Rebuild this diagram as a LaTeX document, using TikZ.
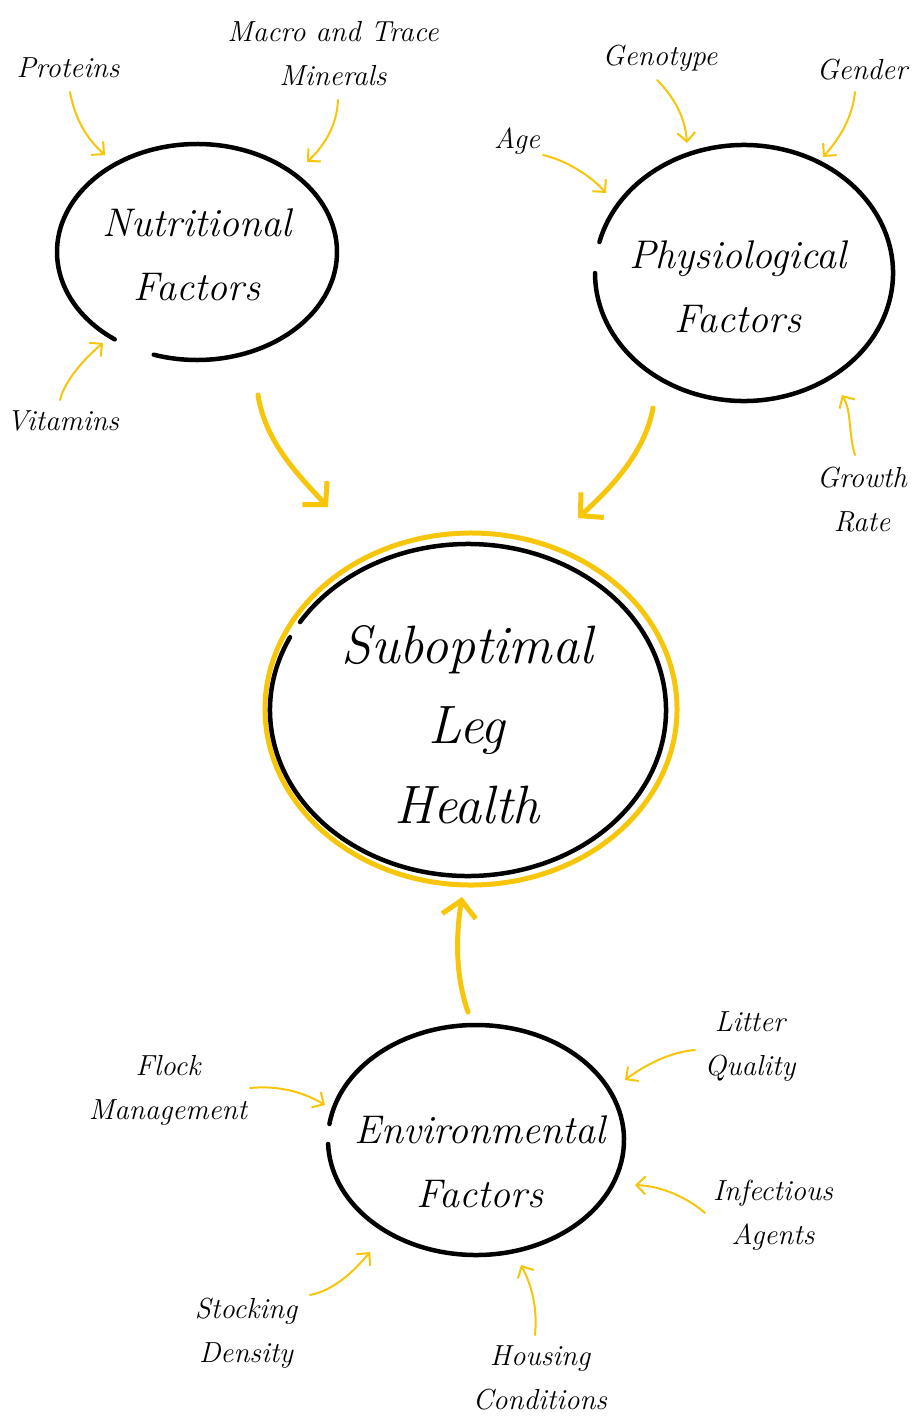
\documentclass[tikz,border=0pt]{standalone}
\usetikzlibrary{arrows.meta}
\definecolor{gold}{RGB}{247,197,10}
\begin{document}
\begin{tikzpicture}[x=1pt,y=-1pt,
  ring/.style={line width=4.5pt,line cap=round,black},
  halo/.style={line width=5pt,line cap=round,gold},
  thin/.style={gold,line width=2pt,line cap=round,-{Straight Barb[length=9pt,width=18pt,line width=2pt]}},
  thick/.style={gold,line width=5pt,line cap=round,-{Straight Barb[length=16pt,width=34pt,line width=5pt]}},
  lab/.style={font=\fontsize{29}{44}\selectfont\itshape,align=center,inner sep=0pt},
  mid/.style={font=\fontsize{40}{64}\selectfont\itshape,align=center,inner sep=0pt},
  big/.style={font=\fontsize{54}{80}\selectfont\itshape,align=center,inner sep=0pt}]
\useasboundingbox (0,0) rectangle (914,1426);

% circles
\draw[ring] (197,252) ++(126:140 and 108) arc[start angle=126,end angle=468,x radius=140,y radius=108];
\draw[ring] (744,273) ++(194:149 and 128) arc[start angle=194,end angle=540,x radius=149,y radius=128];
\draw[halo] (471,709) ++(214:206 and 176) arc[start angle=214,end angle=578,x radius=206,y radius=176];
\draw[ring] (468,710) ++(212:198 and 166) arc[start angle=212,end angle=566,x radius=198,y radius=166];
\draw[ring] (476,1140) ++(188:148 and 115) arc[start angle=188,end angle=538,x radius=148,y radius=115];

% main labels
\node[mid] (nut) at (197,255) {Nutritional\\Factors};
\node[mid] (phy) at (738,287) {Physiological\\Factors};
\node[big] (leg) at (467,725) {Suboptimal\\Leg\\Health};
\node[mid] (env) at (480,1162) {Environmental\\Factors};

% small labels
\node[lab] (prot) at (68,68) {Proteins};
\node[lab] (mine) at (333,54) {Macro and Trace\\Minerals};
\node[lab] (vita) at (63,421) {Vitamins};
\node[lab] (age) at (517,141) {Age};
\node[lab] (geno) at (660,58) {Genotype};
\node[lab] (gend) at (862,70) {Gender};
\node[lab] (grow) at (862,500) {Growth\\Rate};
\node[lab] (floc) at (168,1090) {Flock\\Management};
\node[lab] (litt) at (750,1047) {Litter\\Quality};
\node[lab] (infe) at (773,1215) {Infectious\\Agents};
\node[lab] (hous) at (540,1378) {Housing\\Conditions};
\node[lab] (stoc) at (246,1333) {Stocking\\Density};

% arrow end points
\coordinate (p1) at (70,92);   \coordinate (p2) at (105,155);
\coordinate (m1) at (338,100); \coordinate (m2) at (307,162);
\coordinate (v1) at (60,400);  \coordinate (v2) at (103,343);
\coordinate (a1) at (543,155); \coordinate (a2) at (606,193);
\coordinate (g1) at (657,80);  \coordinate (g2) at (687,143);
\coordinate (e1) at (855,92);  \coordinate (e2) at (823,157);
\coordinate (r1) at (855,455); \coordinate (r2) at (842,395);
\coordinate (f1) at (250,1088);\coordinate (f2) at (325,1105);
\coordinate (l1) at (695,1050);\coordinate (l2) at (625,1080);
\coordinate (i1) at (705,1213);\coordinate (i2) at (635,1185);
\coordinate (h1) at (535,1335);\coordinate (h2) at (521,1265);
\coordinate (s1) at (310,1295);\coordinate (s2) at (370,1252);
\coordinate (n1) at (258,395); \coordinate (n2) at (328,507);
\coordinate (y1) at (653,408); \coordinate (y2) at (578,518);
\coordinate (o1) at (468,1012);\coordinate (o2) at (462,897);

% thin arrows
\draw[thin] (p1) .. controls (75,120) and (88,140) .. (p2);
\draw[thin] (m1) .. controls (337,125) and (325,145) .. (m2);
\draw[thin] (v1) .. controls (65,380) and (85,358) .. (v2);
\draw[thin] (a1) .. controls (565,160) and (590,175) .. (a2);
\draw[thin] (g1) .. controls (672,95) and (685,115) .. (g2);
\draw[thin] (e1) .. controls (852,120) and (838,140) .. (e2);
\draw[thin] (r1) .. controls (848,432) and (852,412) .. (r2);
\draw[thin] (f1) .. controls (280,1085) and (305,1093) .. (f2);
\draw[thin] (l1) .. controls (670,1052) and (645,1065) .. (l2);
\draw[thin] (i1) .. controls (688,1198) and (662,1186) .. (i2);
\draw[thin] (h1) .. controls (538,1305) and (530,1282) .. (h2);
\draw[thin] (s1) .. controls (335,1290) and (355,1270) .. (s2);

% thick arrows
\draw[thick] (n1) .. controls (265,440) and (295,472) .. (n2);
\draw[thick] (y1) .. controls (645,452) and (612,487) .. (y2);
\draw[thick] (o1) .. controls (455,975) and (456,935) .. (o2);
\end{tikzpicture}
\end{document}
